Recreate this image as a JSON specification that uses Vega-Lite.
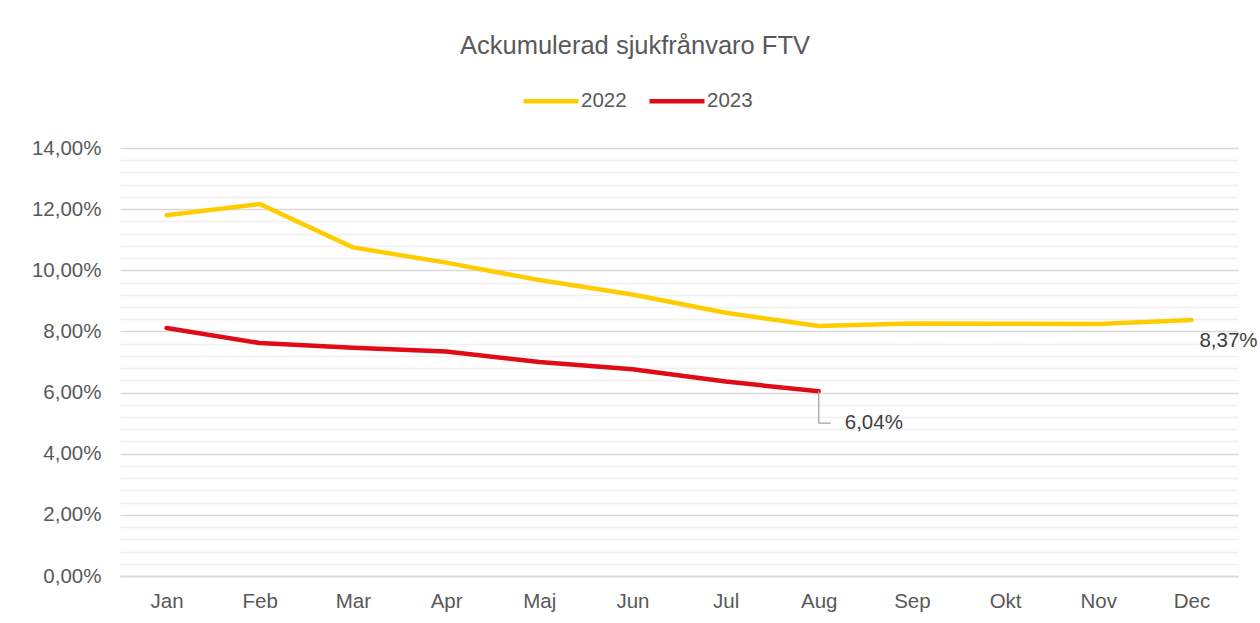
{
  "$schema": "https://vega.github.io/schema/vega-lite/v6.json",
  "width": 1118,
  "height": 428,
  "autosize": {"type": "none"},
  "padding": {"left": 120, "top": 148, "right": 22, "bottom": 47},
  "background": "#ffffff",
  "config": {
    "font": "Liberation Sans",
    "view": {"stroke": null},
    "axis": {"labelFont": "Liberation Sans", "labelColor": "#595959"}
  },
  "title": {
    "text": "Ackumulerad sjukfrånvaro FTV",
    "font": "Liberation Sans",
    "fontSize": 25.5,
    "fontWeight": "normal",
    "color": "#595959",
    "anchor": "middle",
    "frame": "group",
    "dx": -44,
    "baseline": "alphabetic",
    "offset": -8
  },
  "data": {
    "values": [
      {"month": "Jan", "year": "2022", "value": 11.80},
      {"month": "Feb", "year": "2022", "value": 12.17},
      {"month": "Mar", "year": "2022", "value": 10.75},
      {"month": "Apr", "year": "2022", "value": 10.25},
      {"month": "Maj", "year": "2022", "value": 9.68},
      {"month": "Jun", "year": "2022", "value": 9.21},
      {"month": "Jul", "year": "2022", "value": 8.61},
      {"month": "Aug", "year": "2022", "value": 8.18},
      {"month": "Sep", "year": "2022", "value": 8.26},
      {"month": "Okt", "year": "2022", "value": 8.25},
      {"month": "Nov", "year": "2022", "value": 8.24},
      {"month": "Dec", "year": "2022", "value": 8.37},
      {"month": "Jan", "year": "2023", "value": 8.11},
      {"month": "Feb", "year": "2023", "value": 7.62},
      {"month": "Mar", "year": "2023", "value": 7.47},
      {"month": "Apr", "year": "2023", "value": 7.34},
      {"month": "Maj", "year": "2023", "value": 7.00},
      {"month": "Jun", "year": "2023", "value": 6.76},
      {"month": "Jul", "year": "2023", "value": 6.36},
      {"month": "Aug", "year": "2023", "value": 6.04}
    ]
  },
  "transform": [
    {"calculate": "replace(format(datum.value, '.2f'), '.', ',') + '%'", "as": "label"}
  ],
  "encoding": {
    "x": {
      "field": "month",
      "type": "ordinal",
      "sort": ["Jan", "Feb", "Mar", "Apr", "Maj", "Jun", "Jul", "Aug", "Sep", "Okt", "Nov", "Dec"],
      "scale": {"type": "point", "padding": 0.5},
      "axis": {
        "title": null,
        "labelAngle": 0,
        "labelFontSize": 20.5,
        "labelColor": "#595959",
        "labelPadding": 15,
        "ticks": false,
        "domain": true,
        "domainColor": "#D9D9D9",
        "domainWidth": 1.3,
        "grid": false
      }
    }
  },
  "layer": [
    {
      "mark": {"type": "line", "opacity": 0},
      "encoding": {
        "y": {
          "field": "value",
          "type": "quantitative",
          "scale": {"domain": [0, 14], "nice": false, "zero": true},
          "axis": {
            "orient": "right",
            "title": null,
            "labels": false,
            "ticks": false,
            "domain": false,
            "grid": true,
            "gridColor": "#F0F0F0",
            "gridWidth": 1.3,
            "values": [0.4, 0.8, 1.2, 1.6, 2.4, 2.8, 3.2, 3.6, 4.4, 4.8, 5.2, 5.6, 6.4, 6.8, 7.2, 7.6, 8.4, 8.8, 9.2, 9.6, 10.4, 10.8, 11.2, 11.6, 12.4, 12.8, 13.2, 13.6]
          }
        },
        "detail": {"field": "year"}
      }
    },
    {
      "mark": {"type": "line", "strokeWidth": 4.5, "strokeCap": "round", "strokeJoin": "round"},
      "encoding": {
        "y": {
          "field": "value",
          "type": "quantitative",
          "scale": {"domain": [0, 14], "nice": false, "zero": true},
          "axis": {
            "orient": "left",
            "title": null,
            "values": [0, 2, 4, 6, 8, 10, 12, 14],
            "labelExpr": "replace(format(datum.value, '.2f'), '.', ',') + '%'",
            "labelFontSize": 20.5,
            "labelColor": "#595959",
            "labelPadding": 19,
            "ticks": false,
            "domain": false,
            "grid": true,
            "gridColor": "#D9D9D9",
            "gridWidth": 1.3
          }
        },
        "color": {
          "field": "year",
          "type": "nominal",
          "scale": {"domain": ["2022", "2023"], "range": ["#FFCC00", "#E00B16"]},
          "legend": {
            "title": null,
            "orient": "none",
            "direction": "horizontal",
            "legendX": 401,
            "legendY": -77,
            "symbolType": "stroke",
            "symbolSize": 3025,
            "symbolStrokeWidth": 4.5,
            "labelFontSize": 20.5,
            "labelColor": "#595959",
            "labelFont": "Liberation Sans",
            "labelOffset": 0,
            "columnPadding": 13,
            "padding": 0
          }
        }
      }
    },
    {
      "transform": [{"filter": "datum.year == '2023' && datum.month == 'Aug'"}],
      "mark": {"type": "rule", "color": "#A6A6A6", "strokeWidth": 1.3},
      "encoding": {
        "y": {"field": "value", "type": "quantitative", "axis": null},
        "y2": {"datum": 5}
      }
    },
    {
      "transform": [{"filter": "datum.year == '2023' && datum.month == 'Aug'"}],
      "mark": {"type": "rule", "color": "#A6A6A6", "strokeWidth": 1.3, "x2Offset": 12},
      "encoding": {
        "x2": {"field": "month"},
        "y": {"datum": 5, "type": "quantitative", "axis": null}
      }
    },
    {
      "transform": [{"filter": "datum.year == '2023' && datum.month == 'Aug'"}],
      "mark": {"type": "text", "align": "left", "baseline": "middle", "dx": 26, "dy": 32, "fontSize": 20.5, "color": "#404040"},
      "encoding": {
        "y": {"field": "value", "type": "quantitative", "axis": null},
        "text": {"field": "label"}
      }
    },
    {
      "transform": [{"filter": "datum.year == '2022' && datum.month == 'Dec'"}],
      "mark": {"type": "text", "align": "left", "baseline": "middle", "dx": 8, "dy": 21, "fontSize": 20.5, "color": "#404040"},
      "encoding": {
        "y": {"field": "value", "type": "quantitative", "axis": null},
        "text": {"field": "label"}
      }
    }
  ],
  "resolve": {"axis": {"y": "independent"}}
}
